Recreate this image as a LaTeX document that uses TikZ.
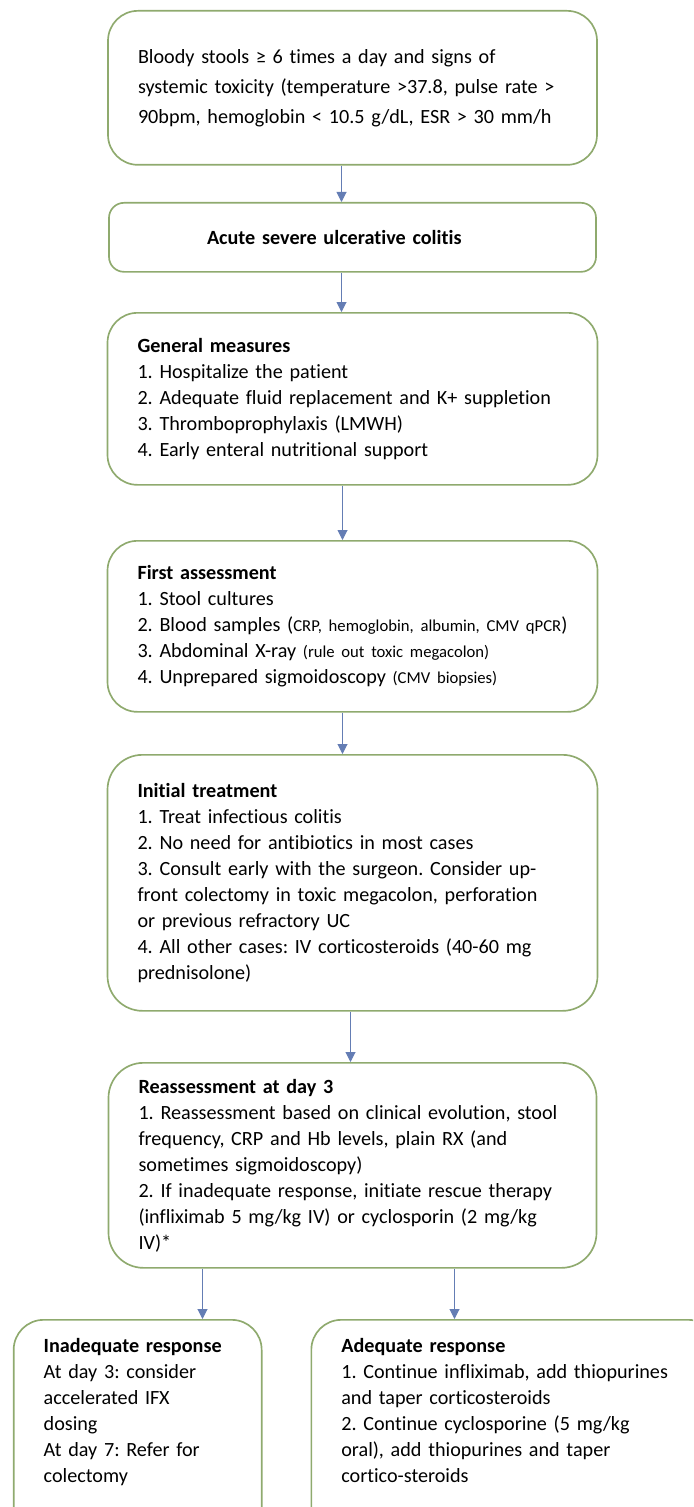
\documentclass[tikz,border=0pt]{standalone}
\usepackage{fontspec}
\setmainfont{Carlito}[Ligatures={TeX,NoCommon}]
\frenchspacing
\usetikzlibrary{positioning,arrows.meta}
\definecolor{boxgreen}{RGB}{143,170,110}
\definecolor{flowblue}{RGB}{100,125,180}
\newcommand{\aside}[1]{{\fontsize{10}{12}\selectfont #1}}

\begin{document}
\begin{tikzpicture}[
box/.style={draw=boxgreen, line width=1pt, rounded corners=18pt, align=left, inner xsep=18pt, inner ysep=6pt, font=\fontsize{12.1}{15.6}\selectfont},
flow/.style={draw=flowblue, line width=0.6pt, -{Triangle[width=6pt,length=6pt]}}
]
\useasboundingbox (0,0) rectangle (415.8pt,-904.2pt);
\clip (0,0) rectangle (415.8pt,-904.2pt);

\node[box, anchor=north, text width=257.4pt, minimum height=92.4pt, font=\fontsize{12.1}{18}\selectfont] (symptoms) at (211.5pt,-6pt) {
    Bloody stools ≥ 6 times a day and signs of\\
    systemic toxicity (temperature >37.8, pulse rate >\\
    90bpm, hemoglobin < 10.5 g/dL, ESR > 30 mm/h
};
\node[box, below=21.8pt of symptoms, text width=256.2pt, minimum height=41.4pt, rounded corners=9pt] (diagnosis) {
    \hspace*{40.8pt}\textbf{Acute severe ulcerative colitis}
};
\node[box, below=23.6pt of diagnosis, text width=258pt, minimum height=103.2pt] (measures) {
    \textbf{General measures}\\
    1. Hospitalize the patient\\
    2. Adequate fluid replacement and K+ suppletion\\
    3. Thromboprophylaxis (LMWH)\\
    4. Early enteral nutritional support
};
\node[box, below=32.6pt of measures, text width=258pt, minimum height=102.6pt] (assessment) {
    \textbf{First assessment}\\
    1. Stool cultures\\
    2. Blood samples (\aside{CRP, hemoglobin, albumin, CMV qPCR})\\
    3. Abdominal X-ray \aside{(rule out toxic megacolon)}\\
    4. Unprepared sigmoidoscopy \aside{(CMV biopsies)}
};
\node[box, below=24.8pt of assessment, text width=258pt, minimum height=153.6pt, rounded corners=21pt] (treatment) {
    \textbf{Initial treatment}\\
    1. Treat infectious colitis\\
    2. No need for antibiotics in most cases\\
    3. Consult early with the surgeon. Consider up-\\
    front colectomy in toxic megacolon, perforation\\
    or previous refractory UC\\
    4. All other cases: IV corticosteroids (40-60 mg\\
    prednisolone)
};
\node[box, below=30.2pt of treatment, text width=256.8pt, minimum height=123pt, rounded corners=21pt] (reassess) {
    \textbf{Reassessment at day 3}\\
    1. Reassessment based on clinical evolution, stool\\
    frequency, CRP and Hb levels, plain RX (and\\
    sometimes sigmoidoscopy)\\
    2. If inadequate response, initiate rescue therapy\\
    (infliximab 5 mg/kg IV) or cyclosporin (2 mg/kg\\
    IV)*
};
\node[box, below=30.2pt of reassess.south west, xshift=18pt, text width=112.8pt, inner ysep=11pt] (inadequate) {
    \textbf{Inadequate response}\\
    At day 3: consider\\
    accelerated IFX\\
    dosing\\
    At day 7: Refer for\\
    colectomy\\[30pt]\mbox{}
};
\node[box, below=30.2pt of reassess.south east, xshift=-49.5pt, text width=208.2pt, inner ysep=11pt] (adequate) {
    \textbf{Adequate response}\\
    1. Continue infliximab, add thiopurines\\
    and taper corticosteroids\\
    2. Continue cyclosporine (5 mg/kg\\
    oral), add thiopurines and taper\\
    cortico-steroids\\[30pt]\mbox{}
};

\draw[flow] ([xshift=-6.6pt]symptoms.south) -- ([xshift=-6.6pt]diagnosis.north);
\draw[flow] ([xshift=-6.6pt]diagnosis.south) -- ([xshift=-6.6pt]measures.north);
\draw[flow] ([xshift=-6pt]measures.south) -- ([xshift=-6pt]assessment.north);
\draw[flow] ([xshift=-6pt]assessment.south) -- ([xshift=-6pt]treatment.north);
\draw[flow] ([xshift=-1.2pt]treatment.south) -- ([xshift=-1.2pt]reassess.north);
\draw[flow] ([xshift=-90pt]reassess.south) -- ([xshift=-90pt]reassess.south |- inadequate.north);
\draw[flow] ([xshift=61.2pt]reassess.south) -- ([xshift=61.2pt]reassess.south |- adequate.north);
\end{tikzpicture}
\end{document}
